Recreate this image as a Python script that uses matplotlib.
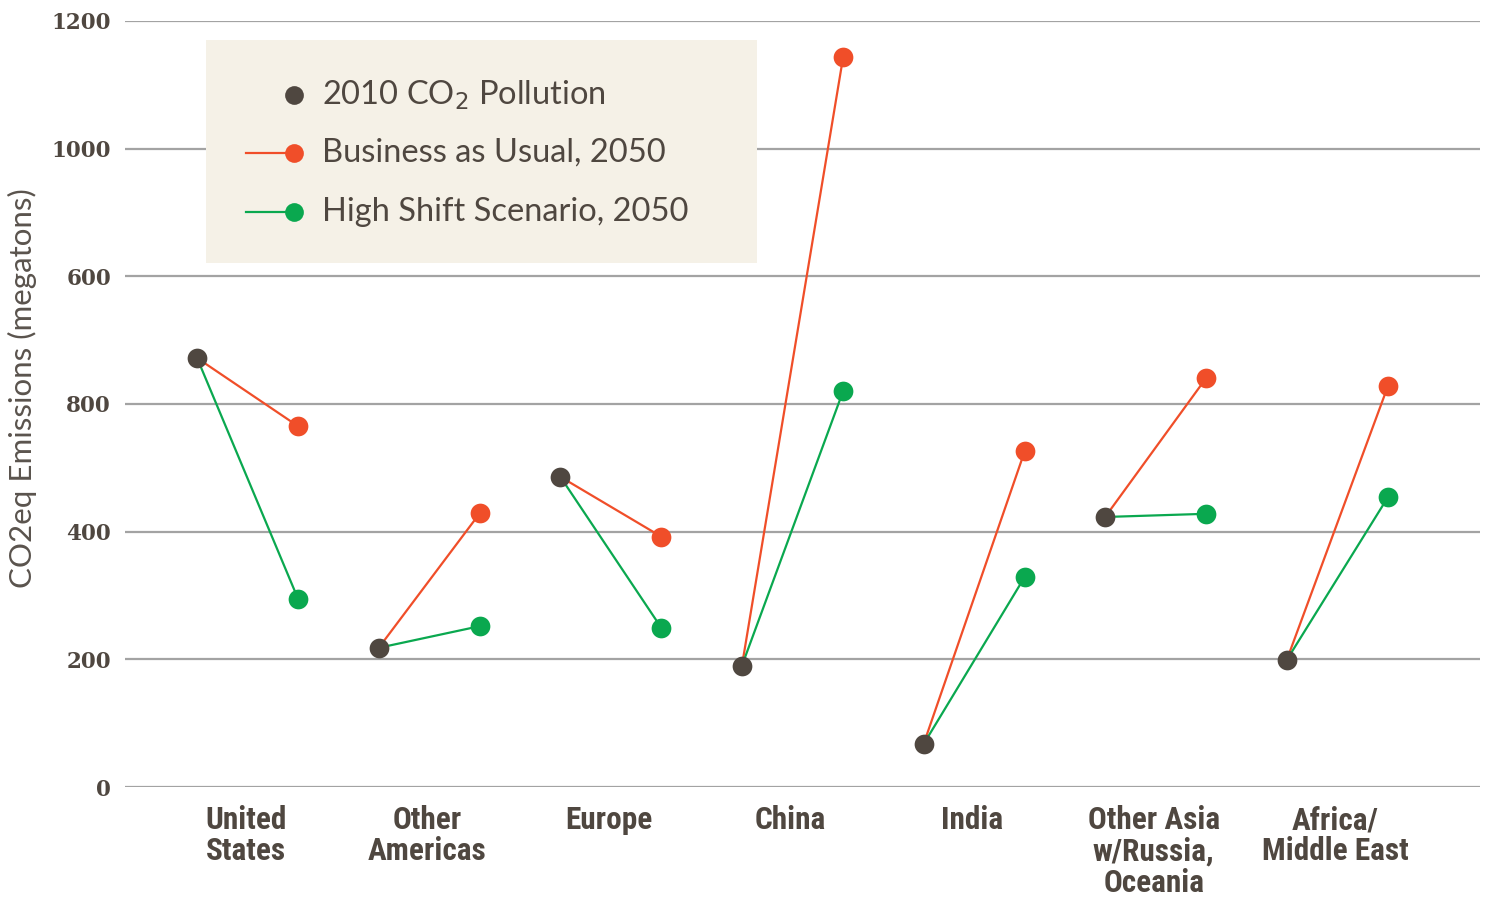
import matplotlib
matplotlib.use("Agg")
import matplotlib.pyplot as plt
from matplotlib.lines import Line2D
from matplotlib.patches import Rectangle
import numpy as np

# data
regions = ["United\nStates", "Other\nAmericas", "Europe", "China", "India",
           "Other Asia\nw/Russia,\nOceania", "Africa/\nMiddle East"]
co2_2010 = [672, 218, 486, 190, 67, 423, 199]
bau_2050 = [565, 429, 392, 1143, 526, 641, 628]
high_shift_2050 = [294, 252, 249, 620, 329, 428, 454]

y_ticks = [0, 200, 400, 600, 800, 1000, 1200]
y_tick_labels = ["0", "200", "400", "800", "600", "1000", "1200"]

legend_labels = ["2010 CO$_2$ Pollution", "Business as Usual, 2050",
                 "High Shift Scenario, 2050"]

dark = "#4f4740"
orange = "#f04e29"
green = "#0aa84f"
grid_col = "#a3a3a3"
beige = "#f5f1e7"

W, H = 1489, 898
fig = plt.figure(figsize=(W / 100, H / 100), dpi=100)
ax = fig.add_axes([125 / W, 1 - 787 / H, 1355 / W, 766 / H])

x = np.arange(len(regions))
x0 = x - 0.267
x1 = x + 0.29

for i in range(len(regions)):
    ax.plot([x0[i], x1[i]], [co2_2010[i], bau_2050[i]], color=orange, lw=1.6, zorder=2)
    ax.plot([x0[i], x1[i]], [co2_2010[i], high_shift_2050[i]], color=green, lw=1.6, zorder=2)

ms = 14.2
ax.plot(x1, bau_2050, "o", color=orange, ms=ms, mec="none", zorder=3)
ax.plot(x1, high_shift_2050, "o", color=green, ms=ms, mec="none", zorder=3)
ax.plot(x0, co2_2010, "o", color=dark, ms=ms, mec="none", zorder=4)

ax.set_xlim(-0.664, 6.797)
ax.set_ylim(0, 1200)
ax.set_yticks(y_ticks)
ax.set_yticklabels(y_tick_labels, family="DejaVu Serif", fontweight="heavy",
                   fontsize=15.5, color=dark)
ax.set_xticks(x)
ax.set_xticklabels(regions,
                   family=["Roboto Condensed", "Liberation Sans Narrow", "DejaVu Sans"],
                   fontweight=900, fontstretch="condensed", fontsize=22.5,
                   color=dark, linespacing=1.06, va="top")
ax.tick_params(axis="both", length=0)
ax.tick_params(axis="y", pad=10)
ax.tick_params(axis="x", pad=13)
ax.grid(axis="y", color=grid_col, lw=1.6, zorder=0)
ax.set_axisbelow(True)
for s in ax.spines.values():
    s.set_visible(False)

fig.text(22 / W, 1 - 388 / H, "CO2eq Emissions (megatons)", rotation=90,
         ha="center", va="center", fontsize=22.5, color="#5a534d", family="Lato")

# legend box drawn by hand to match the reference layout
fig.add_artist(Rectangle((206 / W, 1 - 263 / H), 551 / W, 223 / H,
                         transform=fig.transFigure, facecolor=beige,
                         edgecolor="none", zorder=5))
rows_y = [95, 153, 212]
line_cols = [None, orange, green]
mark_cols = [dark, orange, green]
for ry, lc, mc, lab in zip(rows_y, line_cols, mark_cols, legend_labels):
    yy = 1 - ry / H
    if lc is not None:
        fig.add_artist(Line2D([246 / W, 294 / W], [yy, yy], color=lc, lw=1.6,
                              transform=fig.transFigure, zorder=6))
    fig.add_artist(Line2D([294 / W], [yy], marker="o", ms=ms * 0.95, color=mc,
                          mec="none", transform=fig.transFigure, zorder=7))
    fig.text(322 / W, yy, lab, ha="left", va="center", fontsize=23.5,
             color=dark, family="Lato", zorder=8)

fig.savefig("out.png", dpi=100)
